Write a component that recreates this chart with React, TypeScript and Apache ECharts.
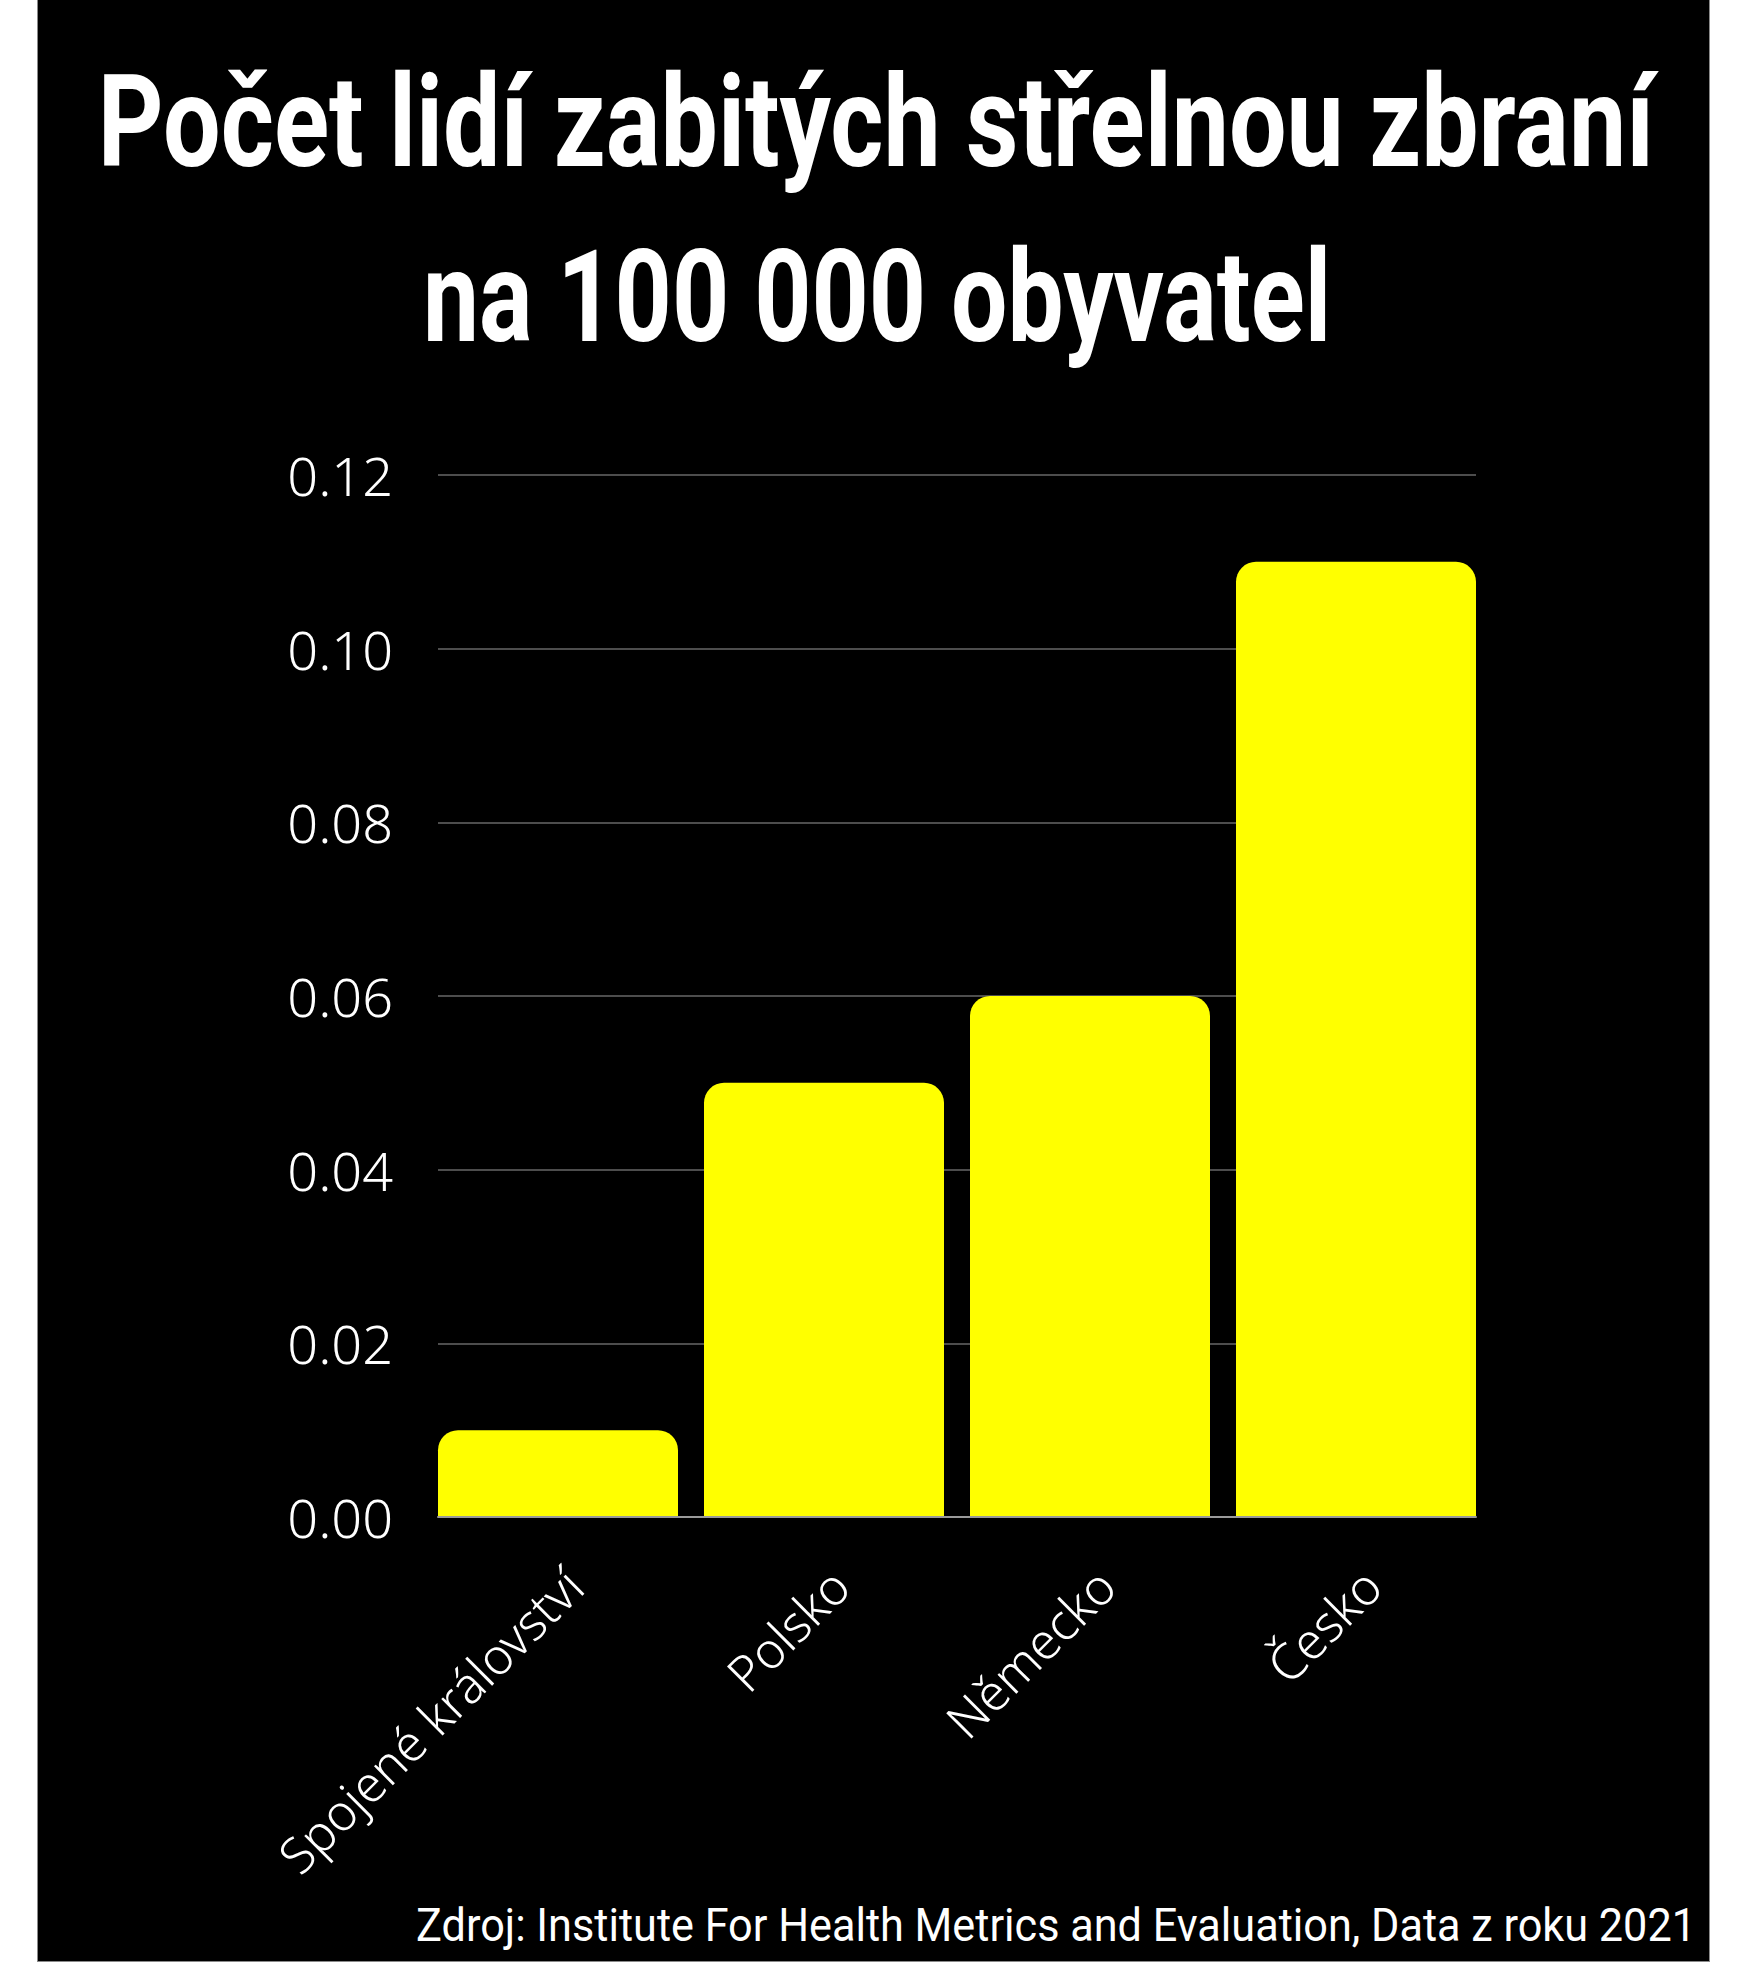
import React, { useEffect, useRef } from "react";
import * as echarts from "echarts";

const categories = ["Spojené království", "Polsko", "Německo", "Česko"];
const values = [0.01, 0.05, 0.06, 0.11];
const titleLines = ["Počet lidí zabitých střelnou zbraní", "na 100 000 obyvatel"];
const sourceText = "Zdroj: Institute For Health Metrics and Evaluation, Data z roku 2021";

const TITLE_FONT = "bold 128px Roboto";
const SOURCE_FONT = "46px Roboto";
const LABEL_FAMILY = "'Noto Sans', sans-serif";

function measure(text: string, font: string): number {
  const c = document.createElement("canvas");
  const ctx = c.getContext("2d");
  if (!ctx) return 1;
  ctx.font = font;
  return ctx.measureText(text).width || 1;
}

export default function App() {
  const ref = useRef<HTMLDivElement>(null);
  useEffect(() => {
    if (!ref.current) return;
    const chart = echarts.init(ref.current, undefined, { renderer: "svg" });
    const s1 = 1557 / measure(titleLines[0], TITLE_FONT);
    const s2 = 908 / measure(titleLines[1], TITLE_FONT);
    const s3 = 1280 / measure(sourceText, SOURCE_FONT);
    const gTop = 475;
    const gHeight = 1042;
    chart.setOption({
      animation: false,
      backgroundColor: "transparent",
      graphic: [
        {
          type: "text",
          x: 838,
          y: 122,
          scaleX: s1,
          style: {
            text: titleLines[0],
            font: TITLE_FONT,
            fill: "#ffffff",
            align: "center",
            verticalAlign: "middle",
            textAlign: "center",
            textVerticalAlign: "middle",
          },
        },
        {
          type: "text",
          x: 839,
          y: 297,
          scaleX: s2,
          style: {
            text: titleLines[1],
            font: TITLE_FONT,
            fill: "#ffffff",
            align: "center",
            verticalAlign: "middle",
            textAlign: "center",
            textVerticalAlign: "middle",
          },
        },
        {
          type: "text",
          x: 1658,
          y: 1926,
          scaleX: s3,
          style: {
            text: sourceText,
            font: SOURCE_FONT,
            fill: "#ffffff",
            align: "right",
            verticalAlign: "middle",
            textAlign: "right",
            textVerticalAlign: "middle",
          },
        },
      ],
      grid: [
        { left: 400, width: 1038, top: gTop, height: gHeight },
        { left: 387, width: 1064, top: gTop, height: gHeight },
        { left: 403, width: 1064, top: gTop, height: gHeight },
      ],
      xAxis: [
        {
          gridIndex: 0,
          type: "value",
          min: 0,
          max: 1,
          z: 5,
          axisLine: { show: true, lineStyle: { color: "#9a9a9a", width: 2 } },
          axisTick: { show: false },
          axisLabel: { show: false },
          splitLine: { show: false },
        },
        {
          gridIndex: 1,
          type: "category",
          data: categories,
          axisLine: { show: false },
          axisTick: { show: false },
          axisLabel: { show: false },
          splitLine: { show: false },
        },
        {
          gridIndex: 2,
          type: "category",
          data: categories,
          axisLine: { show: false },
          axisTick: { show: false },
          splitLine: { show: false },
          axisLabel: {
            show: true,
            interval: 0,
            rotate: 45,
            margin: 60,
            color: "#ffffff",
            fontSize: 50,
            fontWeight: 350,
            fontFamily: LABEL_FAMILY,
          },
        },
      ],
      yAxis: [
        {
          gridIndex: 0,
          type: "value",
          min: 0,
          max: 0.12,
          interval: 0.02,
          axisLine: { show: false },
          axisTick: { show: false },
          splitLine: { show: true, lineStyle: { color: "#4d4d4d", width: 2 } },
          axisLabel: {
            color: "#ffffff",
            fontSize: 54,
            fontWeight: 350,
            fontFamily: LABEL_FAMILY,
            margin: 45,
            formatter: (v: number) => v.toFixed(2),
          },
        },
        { gridIndex: 1, type: "value", min: 0, max: 0.12, show: false },
        { gridIndex: 2, type: "value", min: 0, max: 1, show: false },
      ],
      series: [
        {
          type: "bar",
          xAxisIndex: 1,
          yAxisIndex: 1,
          data: values,
          barWidth: 240,
          itemStyle: { color: "#ffff00", borderRadius: [20, 20, 0, 0] },
        },
      ],
    });
    return () => chart.dispose();
  }, []);
  return (
    <div
      ref={ref}
      style={{
        position: "absolute",
        left: 38,
        top: 0,
        width: 1671,
        height: 1961,
        background: "#000",
        outline: "1px solid #8a8a8a",
      }}
    />
  );
}
